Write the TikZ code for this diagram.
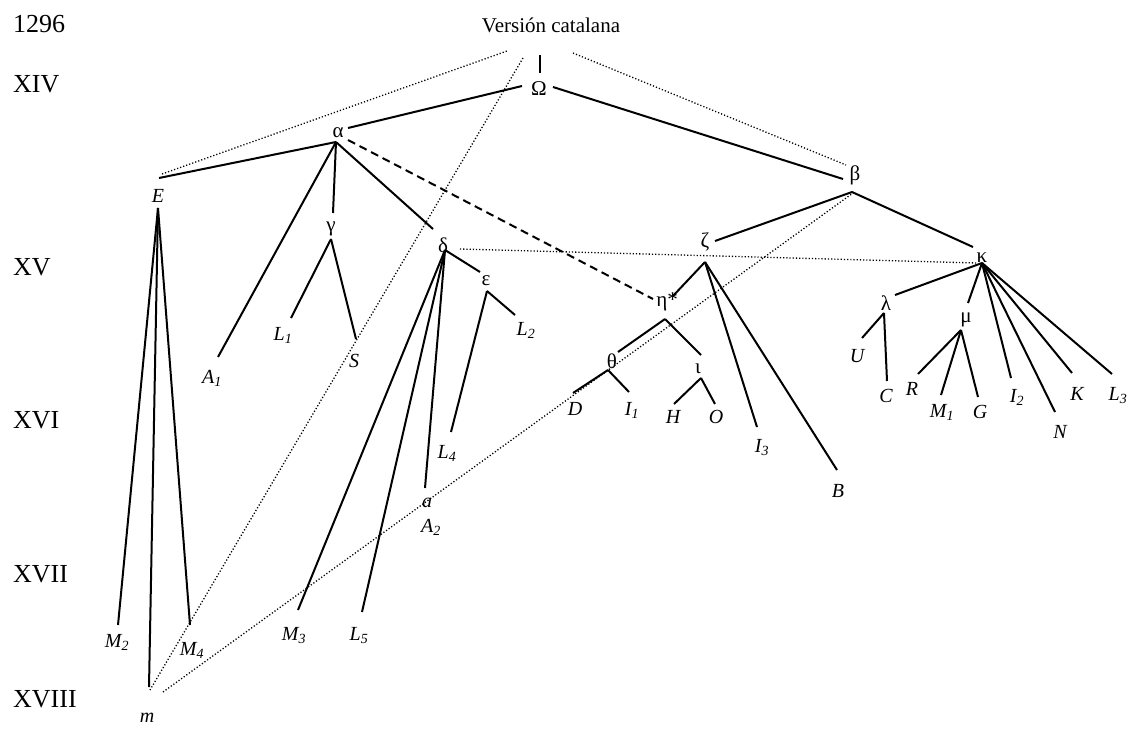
\documentclass[tikz,border=0pt]{standalone}
\usepackage{fontspec}
\setmainfont{Liberation Serif}
\begin{document}
\begin{tikzpicture}[x=1pt,y=-1pt,
  lab/.style={inner sep=0pt,anchor=base,font=\fontsize{21}{23}\selectfont},
  itl/.style={lab,font=\fontsize{20}{22}\selectfont\itshape},
  cent/.style={inner sep=0pt,anchor=base west,font=\fontsize{26}{28}\selectfont},
  edge/.style={line width=2pt},
  dotline/.style={line width=1.3pt,dash pattern=on 1.2pt off 2pt},
  dashline/.style={line width=2pt,dash pattern=on 8pt off 5pt}]
\useasboundingbox (0,0) rectangle (1132,729);
% century labels
\node[cent] (c1296) at (13,32) {1296};
\node[cent] (cXIV) at (13,92) {XIV};
\node[cent] (cXV) at (13,275) {XV};
\node[cent] (cXVI) at (13,428) {XVI};
\node[cent] (cXVII) at (13,582) {XVII};
\node[cent] (cXVIII) at (13,707) {XVIII};
\node[lab,font=\fontsize{21}{23}\selectfont] (vc) at (551,32) {Versión catalana};
% node labels
\node[lab] (Om) at (539,95) {Ω};
\node[lab] (al) at (338,137) {α};
\node[lab] (be) at (855,180) {β};
\node[itl] (E) at (158,202) {E};
\node[lab] (ga) at (331,231) {γ};
\node[itl] (L1) at (283,340) {L\textsubscript{1}};
\node[itl] (S) at (354,367) {S};
\node[itl] (A1) at (212,383) {A\textsubscript{1}};
\node[lab] (de) at (443,252) {δ};
\node[lab] (ep) at (486,285) {ε};
\node[itl] (L2) at (526,335) {L\textsubscript{2}};
\node[itl] (L4) at (447,458) {L\textsubscript{4}};
\node[itl] (a) at (427,507) {a};
\node[itl] (A2) at (431,532) {A\textsubscript{2}};
\node[itl] (M3) at (294,640) {M\textsubscript{3}};
\node[itl] (L5) at (359,640) {L\textsubscript{5}};
\node[itl] (M2) at (117,647) {M\textsubscript{2}};
\node[itl] (M4) at (192,655) {M\textsubscript{4}};
\node[itl] (m) at (147,722) {m};
\node[lab] (ze) at (705,247) {ζ};
\node[lab] (et) at (667,306) {η*};
\node[lab] (th) at (612,368) {θ};
\node[lab] (io) at (698,373) {ι};
\node[itl] (D) at (575,415) {D};
\node[itl] (I1) at (632,415) {I\textsubscript{1}};
\node[itl] (H) at (673,423) {H};
\node[itl] (O) at (716,423) {O};
\node[itl] (I3) at (762,452) {I\textsubscript{3}};
\node[itl] (B) at (838,497) {B};
\node[lab] (ka) at (982,262) {κ};
\node[lab] (la) at (886,310) {λ};
\node[lab] (mu) at (966,322) {μ};
\node[itl] (U) at (857,362) {U};
\node[itl] (C) at (886,402) {C};
\node[itl] (R) at (912,395) {R};
\node[itl] (M1) at (942,417) {M\textsubscript{1}};
\node[itl] (G) at (980,418) {G};
\node[itl] (I2) at (1017,402) {I\textsubscript{2}};
\node[itl] (N) at (1060,438) {N};
\node[itl] (K) at (1077,400) {K};
\node[itl] (L3) at (1118,400) {L\textsubscript{3}};
% connector end points
\coordinate (vc-b) at (540,55);   \coordinate (Om-t) at (540,73);
\coordinate (Om-l) at (522,86);   \coordinate (Om-r) at (553,87);
\coordinate (al-r) at (348,128);  \coordinate (al-b) at (336,142);
\coordinate (al-d) at (348,140);
\coordinate (be-t) at (843,179);  \coordinate (be-b) at (852,192);
\coordinate (E-t) at (159,178);   \coordinate (E-b) at (158,208);
\coordinate (ga-t) at (333,213);  \coordinate (ga-b) at (331,239);
\coordinate (L1-t) at (291,318);  \coordinate (S-t) at (356,339);
\coordinate (A1-t) at (218,357);
\coordinate (de-t) at (433,229);  \coordinate (de-b) at (445,250);
\coordinate (ep-t) at (480,272);  \coordinate (ep-b) at (487,291);
\coordinate (L2-t) at (515,315);  \coordinate (L4-t) at (451,432);
\coordinate (a-t) at (425,488);   \coordinate (L5-t) at (362,612);
\coordinate (M3-t) at (298,610);
\coordinate (M2-t) at (118,625);  \coordinate (m-t) at (149,687);
\coordinate (M4-t) at (190,625);
\coordinate (ze-t) at (715,241);  \coordinate (ze-b) at (705,262);
\coordinate (et-t) at (672,297);  \coordinate (et-l) at (653,299);
\coordinate (et-b) at (665,319);
\coordinate (th-t) at (618,352);  \coordinate (io-t) at (701,355);
\coordinate (th-b) at (608,370);  \coordinate (D-t) at (573,393);
\coordinate (I1-t) at (629,392);
\coordinate (io-b) at (701,378);  \coordinate (H-t) at (674,404);
\coordinate (O-t) at (715,404);
\coordinate (I3-t) at (757,427);  \coordinate (B-t) at (837,470);
\coordinate (ka-t) at (973,247);  \coordinate (ka-b) at (982,263);
\coordinate (la-t) at (895,295);  \coordinate (mu-t) at (968,303);
\coordinate (I2-t) at (1011,378); \coordinate (N-t) at (1055,412);
\coordinate (K-t) at (1072,373);  \coordinate (L3-t) at (1112,374);
\coordinate (la-b) at (884,313);  \coordinate (U-t) at (862,338);
\coordinate (C-t) at (887,381);
\coordinate (mu-b) at (961,330);  \coordinate (R-t) at (918,374);
\coordinate (M1-t) at (941,395);  \coordinate (G-t) at (978,397);
% dotted helper ends
\coordinate (d1a) at (162,174);   \coordinate (d1b) at (507,51);
\coordinate (d2a) at (573,53);    \coordinate (d2b) at (846,165);
\coordinate (d3a) at (523,58);    \coordinate (m-d1) at (150,690);
\coordinate (m-d2) at (163,692);  \coordinate (be-d) at (853,193);
\coordinate (de-r) at (460,249);  \coordinate (ka-l) at (977,263);
% solid edges
\draw[edge] (vc-b) -- (Om-t);
\draw[edge] (Om-l) -- (al-r);
\draw[edge] (Om-r) -- (be-t);
\draw[edge] (al-b) -- (E-t);
\draw[edge] (al-b) -- (A1-t);
\draw[edge] (al-b) -- (ga-t);
\draw[edge] (al-b) -- (de-t);
\draw[edge] (ga-b) -- (L1-t);
\draw[edge] (ga-b) -- (S-t);
\draw[edge] (E-b) -- (M2-t);
\draw[edge] (E-b) -- (m-t);
\draw[edge] (E-b) -- (M4-t);
\draw[edge] (de-b) -- (ep-t);
\draw[edge] (de-b) -- (a-t);
\draw[edge] (de-b) -- (L5-t);
\draw[edge] (de-b) -- (M3-t);
\draw[edge] (ep-b) -- (L2-t);
\draw[edge] (ep-b) -- (L4-t);
\draw[edge] (be-b) -- (ze-t);
\draw[edge] (be-b) -- (ka-t);
\draw[edge] (ze-b) -- (et-t);
\draw[edge] (ze-b) -- (I3-t);
\draw[edge] (ze-b) -- (B-t);
\draw[edge] (et-b) -- (th-t);
\draw[edge] (et-b) -- (io-t);
\draw[edge] (th-b) -- (D-t);
\draw[edge] (th-b) -- (I1-t);
\draw[edge] (io-b) -- (H-t);
\draw[edge] (io-b) -- (O-t);
\draw[edge] (ka-b) -- (la-t);
\draw[edge] (ka-b) -- (mu-t);
\draw[edge] (ka-b) -- (I2-t);
\draw[edge] (ka-b) -- (N-t);
\draw[edge] (ka-b) -- (K-t);
\draw[edge] (ka-b) -- (L3-t);
\draw[edge] (la-b) -- (U-t);
\draw[edge] (la-b) -- (C-t);
\draw[edge] (mu-b) -- (R-t);
\draw[edge] (mu-b) -- (M1-t);
\draw[edge] (mu-b) -- (G-t);
% dashed
\draw[dashline] (al-d) -- (et-l);
% dotted
\draw[dotline] (d1a) -- (d1b);
\draw[dotline] (d2a) -- (d2b);
\draw[dotline] (d3a) -- (m-d1);
\draw[dotline] (m-d2) -- (be-d);
\draw[dotline] (de-r) -- (ka-l);
\end{tikzpicture}
\end{document}
